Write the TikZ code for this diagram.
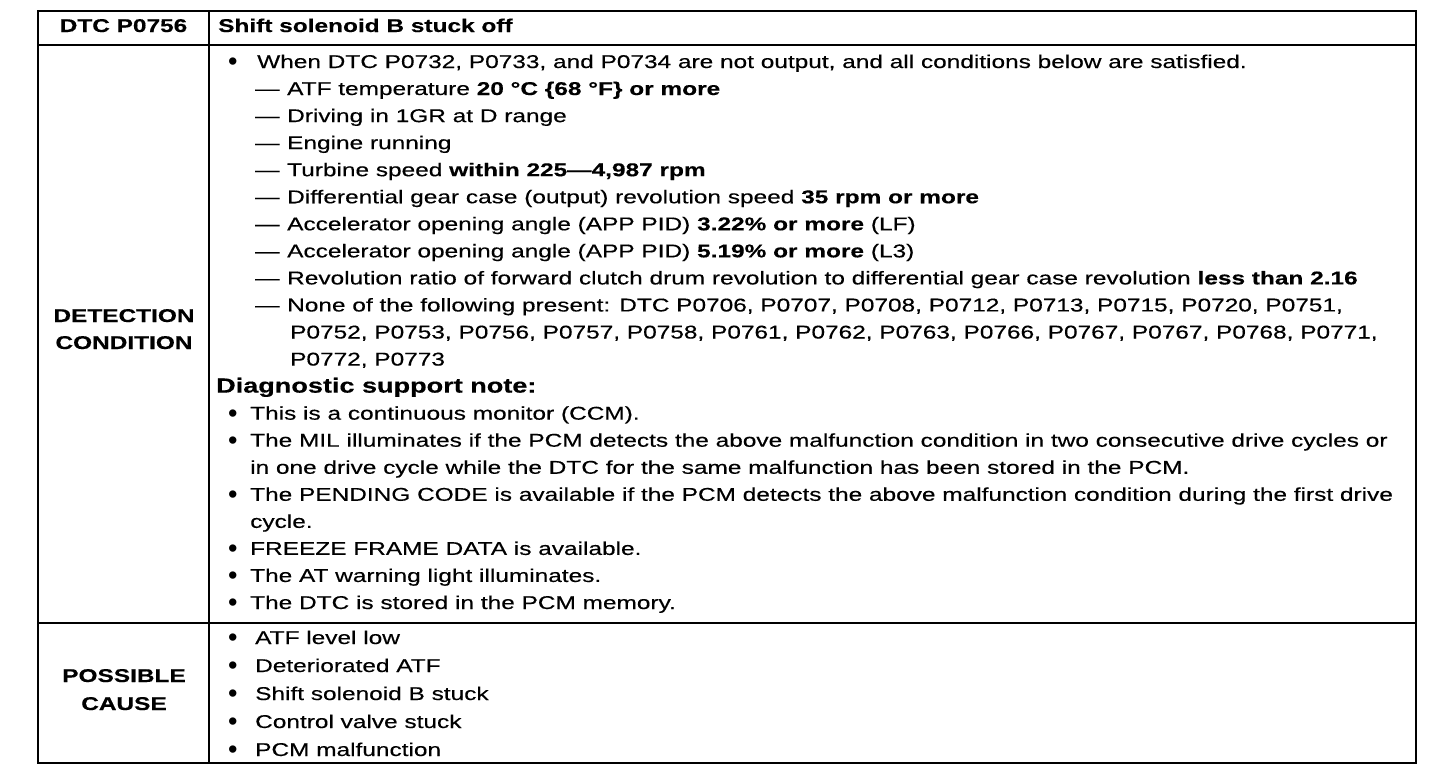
\documentclass[tikz,border=0pt]{standalone}
\usepackage{fontspec}
\setmainfont{Liberation Sans}[FakeStretch=1.32,FakeBold=0.35]
\newfontfamily\bulfont{Liberation Sans}
\newcommand\mytxt{\fontsize{18.5}{22}\selectfont}
\newcommand\bl[1]{\makebox[#1][l]{\raisebox{-2.6pt}{\bulfont\fontsize{27}{27}\selectfont •}}}
\newcommand\dsh{\makebox[32pt][l]{—}}
\begin{document}
\begin{tikzpicture}[x=1pt,y=-1pt,
  frame/.style={line width=2pt,line cap=rect},
  txt/.style={anchor=base west,inner sep=0pt,font=\mytxt},
  lbl/.style={anchor=base,inner sep=0pt,font=\mytxt\bfseries},
  note/.style={anchor=base west,inner sep=0pt,font=\fontsize{20.5}{24}\selectfont\bfseries}]
\useasboundingbox[fill=white] (0,0) rectangle (1456,780);
% table frame
\draw[frame] (38,11) rectangle (1416,763);
\draw[frame] (38,45) -- (1416,45);
\draw[frame] (38,623) -- (1416,623);
\draw[frame] (209,11) -- (209,763);
% header
\node[lbl] (hdtc) at (123.5,32) {DTC P0756};
\node[txt,font=\mytxt\bfseries] (htitle) at (218,32) {Shift solenoid B stuck off};
% left labels
\node[lbl] (det1) at (124,322) {DETECTION};
\node[lbl] (det2) at (124,349) {CONDITION};
\node[lbl] (pos1) at (124,682) {POSSIBLE};
\node[lbl] (pos2) at (124,710) {CAUSE};
% detection condition
\node[txt] (d1) at (228,68) {\bl{29pt}When DTC P0732, P0733, and P0734 are not output, and all conditions below are satisfied.};
\node[txt] (d2) at (255,95) {\dsh ATF temperature \textbf{20 °C \{68 °F\} or more}};
\node[txt] (d3) at (255,122.1) {\dsh Driving in 1GR at D range};
\node[txt] (d4) at (255,149.15) {\dsh Engine running};
\node[txt] (d5) at (255,176.2) {\dsh Turbine speed \textbf{within 225—4,987 rpm}};
\node[txt] (d6) at (255,203.25) {\dsh Differential gear case (output) revolution speed \textbf{35 rpm or more}};
\node[txt] (d7) at (255,230.3) {\dsh Accelerator opening angle (APP PID) \textbf{3.22\% or more} (LF)};
\node[txt] (d8) at (255,257.35) {\dsh Accelerator opening angle (APP PID) \textbf{5.19\% or more} (L3)};
\node[txt] (d9) at (255,284.4) {\dsh Revolution ratio of forward clutch drum revolution to differential gear case revolution \textbf{less than 2.16}};
\node[txt] (d10) at (255,311.45) {\dsh None of the following present: DTC P0706, P0707, P0708, P0712, P0713, P0715, P0720, P0751,};
\node[txt] (d11) at (290,338.5) {P0752, P0753, P0756, P0757, P0758, P0761, P0762, P0763, P0766, P0767, P0767, P0768, P0771,};
\node[txt] (d12) at (290,365.55) {P0772, P0773};
\node[note] (dnote) at (216,392.6) {Diagnostic support note:};
\node[txt] (n1) at (228,419.65) {\bl{22pt}This is a continuous monitor (CCM).};
\node[txt] (n2) at (228,446.7) {\bl{22pt}The MIL illuminates if the PCM detects the above malfunction condition in two consecutive drive cycles or};
\node[txt] (n2b) at (250,473.75) {in one drive cycle while the DTC for the same malfunction has been stored in the PCM.};
\node[txt] (n3) at (228,500.8) {\bl{22pt}The PENDING CODE is available if the PCM detects the above malfunction condition during the first drive};
\node[txt] (n3b) at (250,527.85) {cycle.};
\node[txt] (n4) at (228,554.9) {\bl{22pt}FREEZE FRAME DATA is available.};
\node[txt] (n5) at (228,581.95) {\bl{22pt}The AT warning light illuminates.};
\node[txt] (n6) at (228,609) {\bl{22pt}The DTC is stored in the PCM memory.};
% possible cause
\node[txt] (c1) at (228,644) {\bl{27pt}ATF level low};
\node[txt] (c2) at (228,672) {\bl{27pt}Deteriorated ATF};
\node[txt] (c3) at (228,700) {\bl{27pt}Shift solenoid B stuck};
\node[txt] (c4) at (228,728) {\bl{27pt}Control valve stuck};
\node[txt] (c5) at (228,756) {\bl{27pt}PCM malfunction};
\end{tikzpicture}
\end{document}
